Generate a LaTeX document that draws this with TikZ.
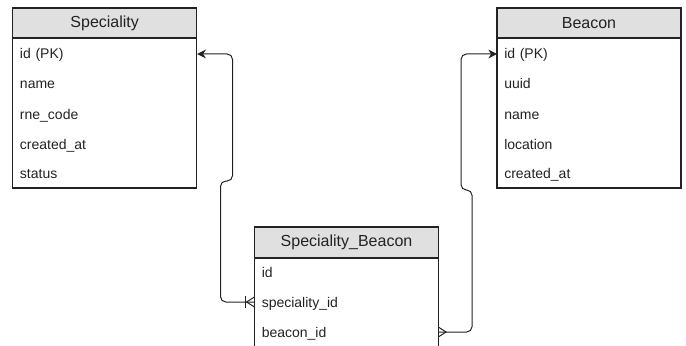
\documentclass[tikz,border=0pt]{standalone}
\usepackage{fontspec}
\setmainfont{Liberation Sans}
\usetikzlibrary{arrows.meta}
\definecolor{headgray}{RGB}{224,224,224}
\definecolor{ink}{RGB}{34,34,34}

\begin{document}
\begin{tikzpicture}[x=0.75pt, y=-0.75pt]
			\tikzstyle{head}=[rectangle, draw=ink, fill=headgray, line width=0.8pt, minimum width=138pt, minimum height=22.5pt, text=ink, font=\fontsize{12}{14}\selectfont]
			\tikzstyle{body}=[rectangle, draw=ink, line width=0.8pt, minimum width=138pt]
			\tikzstyle{field}=[anchor=west, inner xsep=5.25pt, text width=127.5pt, align=left, text height=9pt, text depth=1.5pt, text=ink, font=\fontsize{10.5}{12}\selectfont]
			\tikzstyle{rel}=[draw=ink, line width=0.75pt, rounded corners=4pt]
			
			\useasboundingbox (0,0) rectangle (686,346);
			\clip (0,0) rectangle (686,346);
			
			% Speciality
			\draw node at (104.7, 113) [body, minimum height=112.5pt] (spec-b) {};
			\draw node at (104.7, 23) [head] (spec) {Speciality};
			\draw node at (12.7, 54) [field] (spec-id) {id (PK)};
			\draw node at (12.7, 84) [field] (spec-name) {name};
			\draw node at (12.7, 114) [field] (spec-rne) {rne\_code};
			\draw node at (12.7, 144) [field] (spec-created) {created\_at};
			\draw node at (12.7, 174) [field] (spec-status) {status};
			
			% Beacon
			\draw node at (589, 113) [body, minimum height=112.5pt] (beacon-b) {};
			\draw node at (589, 23) [head] (beacon) {Beacon};
			\draw node at (497, 54) [field] (beacon-id) {id (PK)};
			\draw node at (497, 84) [field] (beacon-uuid) {uuid};
			\draw node at (497, 114) [field] (beacon-name) {name};
			\draw node at (497, 144) [field] (beacon-loc) {location};
			\draw node at (497, 174) [field] (beacon-created) {created\_at};
			
			% Speciality_Beacon
			\draw node at (346.5, 312) [body, minimum height=81pt] (sb-b) {};
			\draw node at (346.5, 242.5) [head, minimum height=23.25pt] (sb) {Speciality\_Beacon};
			\draw node at (254.5, 272) [field] (sb-id) {id};
			\draw node at (254.5, 302) [field] (sb-spec) {speciality\_id};
			\draw node at (254.5, 332) [field] (sb-beacon) {beacon\_id};
			
			\draw [rel, -{Stealth[length=6.5pt, width=6.5pt]}] (sb-spec.west) -- ++(-34,0) -- ++(0,-121) -- ++(12,0) |- (spec-id.east);
			\draw [rel, -{Stealth[length=6.5pt, width=6.5pt]}] (sb-beacon.east) -- ++(33,0) -- ++(0,-142) -- ++(-11,0) |- (beacon-id.west);
			
			% one and many
			\draw [draw=ink, line width=0.75pt] (sb-spec.west) ++(0,-5) -- ++(-8,5) -- ++(8,5);
			\draw [draw=ink, line width=0.75pt] (sb-spec.west) ++(-9,-6) -- ++(0,12);
			% many
			\draw [draw=ink, line width=0.75pt] (sb-beacon.east) ++(0,-4.5) -- ++(7,4.5) -- ++(-7,4.5);
\end{tikzpicture}
\end{document}
